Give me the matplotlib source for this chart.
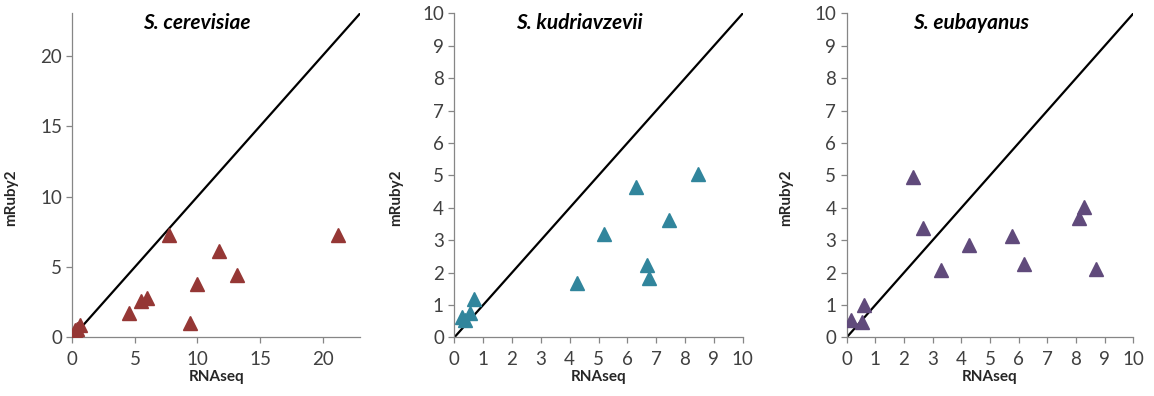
import matplotlib.pyplot as plt

plt.rcParams['font.family'] = ['Lato', 'DejaVu Sans']

# RNAseq vs mRuby2 per species
cer_rna = [0.2, 0.35, 0.6, 4.5, 5.5, 5.95, 7.75, 9.4, 9.95, 11.7, 13.2, 21.2]
cer_ruby = [0.5, 0.6, 0.9, 1.7, 2.6, 2.8, 7.25, 1.0, 3.8, 6.1, 4.4, 7.25]

kud_rna = [0.28, 0.37, 0.54, 0.69, 4.24, 5.19, 6.3, 6.68, 6.75, 7.46, 8.44]
kud_ruby = [0.64, 0.53, 0.74, 1.2, 1.68, 3.2, 4.64, 2.23, 1.82, 3.61, 5.05]

eub_rna = [0.15, 0.55, 0.6, 2.33, 2.67, 3.28, 4.28, 5.76, 6.19, 8.09, 8.29, 8.7]
eub_ruby = [0.53, 0.48, 1.0, 4.95, 3.38, 2.07, 2.86, 3.14, 2.28, 3.7, 4.03, 2.12]

panels = [
    ('S. cerevisiae', cer_rna, cer_ruby, '#953735', 23, [0, 5, 10, 15, 20]),
    ('S. kudriavzevii', kud_rna, kud_ruby, '#31859C', 10, list(range(11))),
    ('S. eubayanus', eub_rna, eub_ruby, '#604A7B', 10, list(range(11))),
]
lefts = [0.0627, 0.3937, 0.7337]
widths = [0.2493, 0.2499, 0.2484]
ylab_x = [18, 403, 793]

fig = plt.figure(figsize=(11.54, 3.96), dpi=100)

for (name, xs, ys, color, lim, ticks), left, w, yl in zip(panels, lefts, widths, ylab_x):
    ax = fig.add_axes([left, 0.148, w, 0.818])
    ax.plot([0, lim], [0, lim], color='black', lw=1.6, zorder=2)
    ax.plot(xs, ys, linestyle='none', marker='^', ms=10.5, color=color, zorder=3)
    ax.set_xlim(0, lim)
    ax.set_ylim(0, lim)
    ax.set_xticks(ticks)
    ax.set_yticks(ticks)
    for side in ['top', 'right']:
        ax.spines[side].set_visible(False)
    for side in ['left', 'bottom']:
        ax.spines[side].set_color('#868686')
        ax.spines[side].set_linewidth(0.9)
    ax.tick_params(colors='#868686', labelcolor='#404040', labelsize=13.5,
                   length=4, width=0.9)
    ax.tick_params(axis='x', pad=6)
    ax.text(0.433, 0.97, name, transform=ax.transAxes, ha='center', va='center',
            fontsize=15, fontweight='bold', fontstyle='italic')
    ax.set_xlabel('RNAseq', fontsize=11, fontweight='bold', color='#262626', labelpad=1)
    ax.set_ylabel('mRuby2', fontsize=11, fontweight='bold', color='#262626')
    ax.yaxis.set_label_coords((yl - left * 1154) / (w * 1154), 0.43)

fig.savefig('out.png', dpi=100)
